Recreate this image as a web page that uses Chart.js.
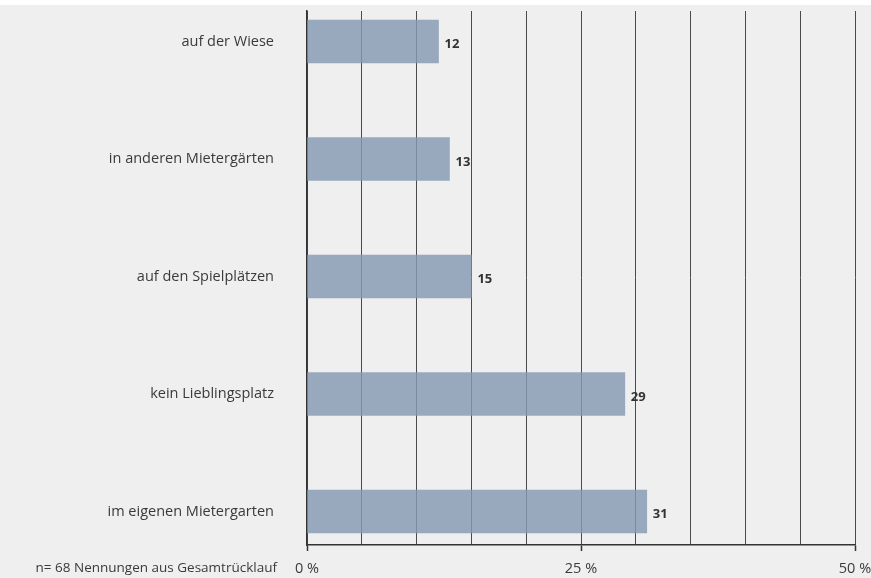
<!DOCTYPE html>
<html>
<head>
<meta charset="utf-8">
<script src="https://cdn.jsdelivr.net/npm/chart.js@4.4.1/dist/chart.umd.min.js"></script>
<style>
  html, body { margin: 0; padding: 0; background: #ffffff; }
  #wrap { position: absolute; left: 0; top: 5px; width: 871px; height: 573px; background: #efefef; }
  canvas { display: block; }
</style>
</head>
<body>
<div id="wrap"><canvas id="c" width="871" height="573"></canvas></div>
<script>
const categories = ["auf der Wiese", "in anderen Mietergärten", "auf den Spielplätzen", "kein Lieblingsplatz", "im eigenen Mietergarten"];
const values = [12, 13, 15, 29, 31];
const xTickLabels = { 0: "0 %", 25: "25 %", 50: "50 %" };
const note = "n= 68 Nennungen aus Gesamtrücklauf";

const FONT = "'Open Sans', 'DejaVu Sans', sans-serif";
const TEXT = "#3a3a3a";
const LINE = "#4a4a4a";

const points = values.map((v, i) => ({ x: v, y: i }));

const valueLabels = {
  id: 'valueLabels',
  afterDatasetsDraw(chart) {
    const ctx = chart.ctx;
    const meta = chart.getDatasetMeta(0);
    ctx.save();
    ctx.font = "bold 13px " + FONT;
    ctx.fillStyle = "#333";
    ctx.textAlign = "left";
    ctx.textBaseline = "middle";
    meta.data.forEach((el, i) => {
      ctx.fillText(String(values[i]), el.x + 6, el.y + 3);
    });
    ctx.restore();
  }
};

const notePlugin = {
  id: 'notePlugin',
  afterDraw(chart) {
    const ctx = chart.ctx;
    ctx.save();
    ctx.font = "13.5px " + FONT;
    ctx.fillStyle = TEXT;
    ctx.textAlign = "right";
    ctx.textBaseline = "alphabetic";
    ctx.fillText(note, 277, 567);
    ctx.restore();
  }
};

new Chart(document.getElementById('c'), {
  type: 'bar',
  data: {
    datasets: [{
      data: points,
      backgroundColor: 'rgba(133,154,179,0.82)',
      borderWidth: 0,
      barThickness: 43
    }]
  },
  options: {
    indexAxis: 'y',
    responsive: false,
    animation: false,
    devicePixelRatio: 1,
    layout: { padding: { top: 6, right: 16, bottom: 0, left: 0 } },
    plugins: { legend: { display: false }, tooltip: { enabled: false } },
    scales: {
      x: {
        type: 'linear',
        min: 0, max: 50,
        afterFit: (scale) => { scale.paddingLeft = 0; scale.paddingRight = 0; scale.height = 33; },
        ticks: {
          stepSize: 5,
          autoSkip: false,
          maxRotation: 0,
          padding: 9,
          color: TEXT,
          font: { family: FONT, size: 14.5 },
          callback: (v) => (xTickLabels[v] !== undefined ? xTickLabels[v] : '')
        },
        grid: {
          color: LINE,
          lineWidth: 1,
          drawTicks: true,
          tickLength: 6,
          tickColor: (ctx) => (ctx.tick && xTickLabels[ctx.tick.value] !== undefined ? '#333' : 'rgba(0,0,0,0)'),
          tickWidth: 1.5
        },
        border: { display: true, color: '#333', width: 1.5 }
      },
      y: {
        type: 'linear',
        reverse: true,
        offset: false,
        min: -0.2596,
        max: 4.2851,
        afterBuildTicks: (scale) => { scale.ticks = categories.map((c, i) => ({ value: i })); },
        afterFit: (scale) => { scale.width = 307; scale.paddingTop = 0; scale.paddingBottom = 0; },
        ticks: {
          padding: 33,
          color: TEXT,
          font: { family: FONT, size: 14.5 },
          callback: (v) => categories[v]
        },
        grid: { display: false, drawTicks: false, offset: false },
        border: { display: true, color: '#333', width: 1.5 }
      }
    }
  },
  plugins: [valueLabels, notePlugin]
});
</script>
</body>
</html>
